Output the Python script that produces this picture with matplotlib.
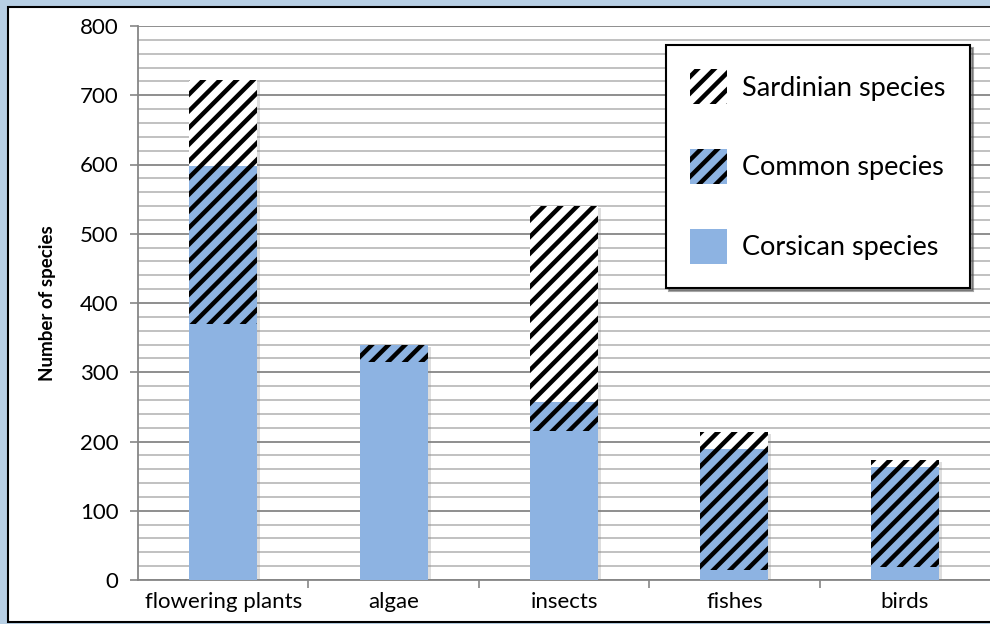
import matplotlib
matplotlib.use("Agg")
import matplotlib.pyplot as plt
from matplotlib.patches import Rectangle, Patch
from matplotlib.transforms import ScaledTranslation
import numpy as np

plt.rcParams['font.family'] = ['Lato', 'DejaVu Sans']
plt.rcParams['hatch.linewidth'] = 3.2

# data
categories = ["flowering plants", "algae", "insects", "fishes", "birds"]
corsican = [370, 315, 215, 14, 19]
common = [228, 25, 42, 175, 144]
sardinian = [124, 0, 283, 24, 10]
yticks = [0, 100, 200, 300, 400, 500, 600, 700, 800]

blue = "#8db3e2"

fig = plt.figure(figsize=(9.9, 6.24), dpi=100)
fig.patch.set_facecolor("#b7cfe4")

# white chart area with black frame, kept under the axes
frame = Rectangle((8 / 990, 2 / 624), 990 / 990, 615 / 624, transform=fig.transFigure,
                  facecolor="white", edgecolor="black", linewidth=1.5, zorder=-10)
fig.add_artist(frame)

ax = fig.add_axes([138 / 990, 1 - 580 / 624, 852 / 990, 554 / 624])
ax.set_facecolor("none")

x = np.arange(len(categories))
width = 0.4
corsican = np.array(corsican)
common = np.array(common)
sardinian = np.array(sardinian)
total = corsican + common + sardinian

# soft shadow behind each bar
shadow = ax.transData + ScaledTranslation(3 / 100, -2 / 100, fig.dpi_scale_trans)
ax.bar(x, total, width, color="#7f7f7f", alpha=0.25, linewidth=0, transform=shadow, zorder=2)

ax.bar(x, corsican, width, color=blue, linewidth=0, zorder=3, label="Corsican species")
ax.bar(x, common, width, bottom=corsican, color=blue, edgecolor="black", linewidth=0,
       hatch="//", zorder=3, label="Common species")
ax.bar(x, sardinian, width, bottom=corsican + common, color="white", edgecolor="black",
       linewidth=0, hatch="//", zorder=3, label="Sardinian species")

ax.set_xlim(-0.5, len(categories) - 0.5)
ax.set_ylim(0, 800)
ax.set_yticks(yticks)
ax.set_yticks(np.arange(0, 801, 20), minor=True)
ax.yaxis.grid(True, which="minor", color="#bcbcbc", linewidth=1.3, zorder=0)
ax.yaxis.grid(True, which="major", color="#868686", linewidth=1.3, zorder=0)
ax.set_axisbelow(True)

ax.set_xticks(x)
ax.set_xticklabels(categories, fontsize=16)
ax.set_xticks(np.arange(0.5, len(categories) - 0.5, 1), minor=True)
ax.tick_params(axis="x", which="major", length=0, pad=9)
ax.tick_params(axis="x", which="minor", length=6, color="#868686", width=1.2, direction="out")
ax.tick_params(axis="y", which="major", length=6, color="#868686", width=1.2, labelsize=16, pad=8)
ax.tick_params(axis="y", which="minor", length=0)

for side in ["top", "right"]:
    ax.spines[side].set_visible(False)
for side in ["left", "bottom"]:
    ax.spines[side].set_color("#868686")
    ax.spines[side].set_linewidth(1.3)

ax.set_ylabel("Number of species", fontsize=13.5, fontweight="bold", labelpad=17)

handles = [
    Patch(facecolor="white", edgecolor="black", linewidth=0, hatch="//"),
    Patch(facecolor=blue, edgecolor="black", linewidth=0, hatch="//"),
    Patch(facecolor=blue, linewidth=0),
]
labels = ["Sardinian species", "Common species", "Corsican species"]
leg = ax.legend(handles, labels, loc="upper left", bbox_to_anchor=(666 / 990, 1 - 45 / 624),
                bbox_transform=fig.transFigure, fontsize=19.5, frameon=True, fancybox=False,
                shadow=True, handlelength=1.37, handleheight=1.6, labelspacing=1.66,
                handletextpad=0.55, borderpad=0.9, borderaxespad=0)
leg.get_frame().set_edgecolor("black")
leg.get_frame().set_linewidth(1.5)

fig.savefig("out.png", dpi=100, facecolor=fig.get_facecolor())
